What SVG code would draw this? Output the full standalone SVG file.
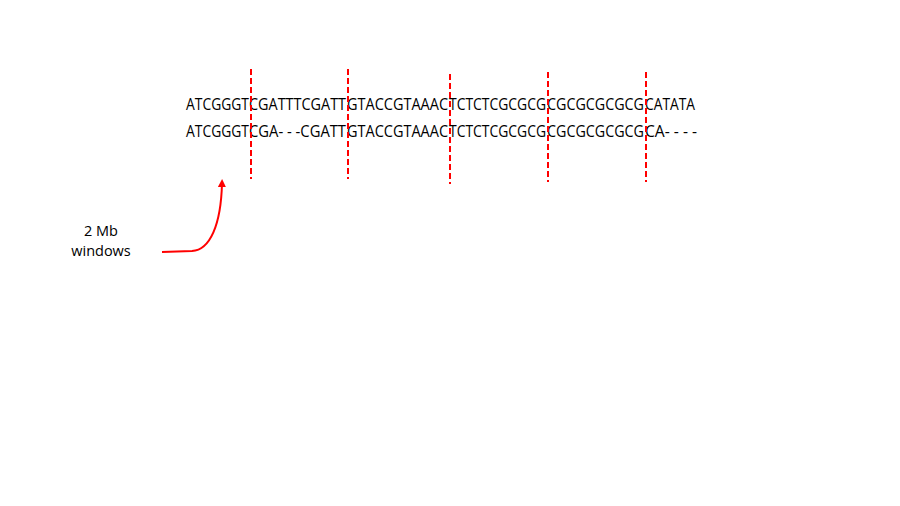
<svg xmlns="http://www.w3.org/2000/svg" width="900" height="506" viewBox="0 0 900 506">
<style>
.seq{font-family:"Open Sans","Liberation Sans",sans-serif;font-size:16px;fill:#000}
.lbl{font-family:"Open Sans","Liberation Sans",sans-serif;font-size:14.5px;fill:#000;text-anchor:middle}
.cut{stroke:#ff0000;stroke-width:2;stroke-dasharray:6,3;fill:none}
</style>
<defs>
<marker id="ah" viewBox="0 0 10 10" refX="5" refY="5" markerWidth="4" markerHeight="4" orient="auto"><path d="M0,0 L10,5 L0,10 z" fill="#ff0000"/></marker>
</defs>
<rect width="900" height="506" fill="#fff"/>
<g id="seq1">
<text class="seq" y="110">
<tspan x="186" textLength="63" lengthAdjust="spacingAndGlyphs">ATCGGGT</tspan>
<tspan x="249" textLength="97" lengthAdjust="spacingAndGlyphs">CGATTTCGATT</tspan>
<tspan x="347" textLength="101" lengthAdjust="spacingAndGlyphs">GTACCGTAAAC</tspan>
<tspan x="449" textLength="97" lengthAdjust="spacingAndGlyphs">TCTCTCGCGCG</tspan>
<tspan x="547" textLength="97" lengthAdjust="spacingAndGlyphs">CGCGCGCGCG</tspan>
<tspan x="645" textLength="50" lengthAdjust="spacingAndGlyphs">CATATA</tspan>
</text>
</g>
<g id="seq2">
<text class="seq" y="137">
<tspan x="186" textLength="63" lengthAdjust="spacingAndGlyphs">ATCGGGT</tspan>
<tspan x="249" textLength="97" lengthAdjust="spacingAndGlyphs">CGA- - -CGATT</tspan>
<tspan x="347" textLength="101" lengthAdjust="spacingAndGlyphs">GTACCGTAAAC</tspan>
<tspan x="449" textLength="97" lengthAdjust="spacingAndGlyphs">TCTCTCGCGCG</tspan>
<tspan x="547" textLength="97" lengthAdjust="spacingAndGlyphs">CGCGCGCGCG</tspan>
<tspan x="645" textLength="52" lengthAdjust="spacingAndGlyphs">CA- - - -</tspan>
</text>
</g>
<g id="label"><text class="lbl" x="101" y="236">2 Mb</text><text class="lbl" x="101" y="256">windows</text></g>
<g id="connectors">
<line class="cut" x1="251" y1="69" x2="251" y2="179"/>
<line class="cut" x1="348" y1="69" x2="348" y2="179"/>
<line class="cut" x1="450" y1="74" x2="450" y2="184"/>
<line class="cut" x1="548" y1="72" x2="548" y2="182"/>
<line class="cut" x1="646" y1="72" x2="646" y2="182"/>
<path d="M162,252 L192,251 C210,250 221,225 222,183" stroke="#ff0000" stroke-width="2" fill="none" marker-end="url(#ah)"/>
</g>
</svg>
